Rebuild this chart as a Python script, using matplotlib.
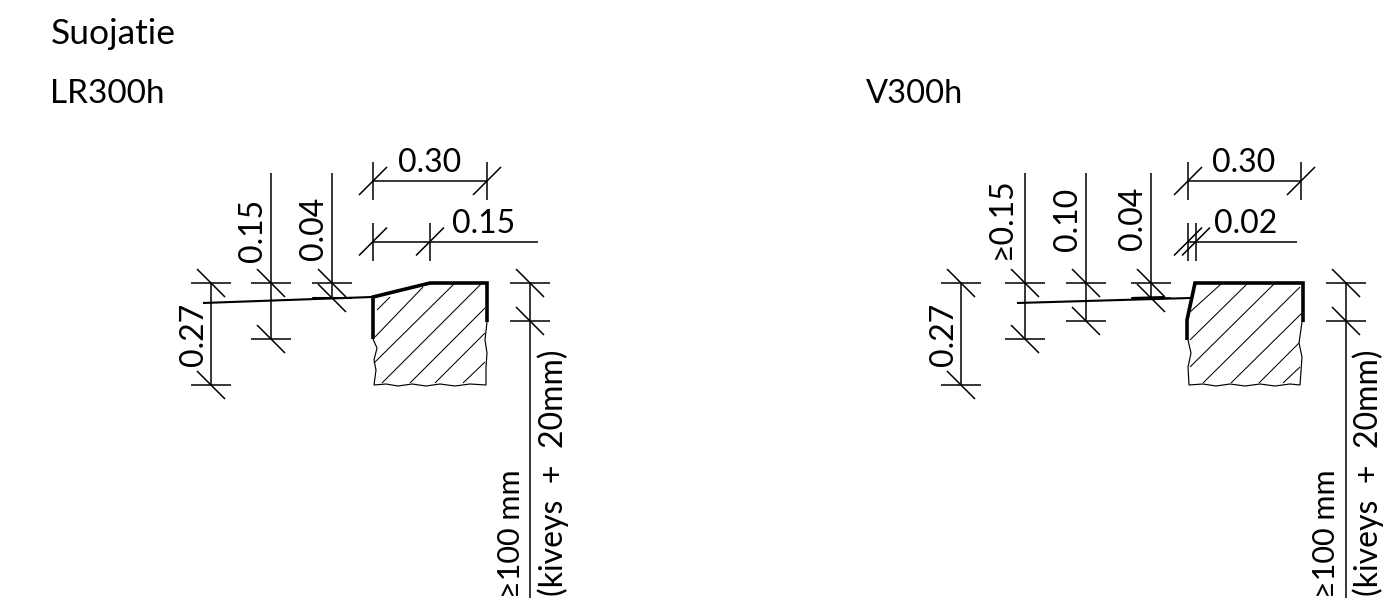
import matplotlib
matplotlib.use('Agg')
import matplotlib.pyplot as plt

# everything in pixels (x right, y down)
FONT = 'Lato'

# --- LR300h ---
lr_dims_v = [(211, 283, 385), (271, 173, 339), (332, 173, 298)]   # x, y top, y bottom
lr_ticks_v = [(211, 283), (211, 385), (271, 283), (271, 339), (332, 283), (332, 298)]
lr_dims_h = [(181, 373, 487), (241.5, 373, 538)]                  # y, x left, x right
lr_ticks_h = [(373, 181), (487, 181), (373, 241.5), (430, 241.5)]
lr_ground = [(203, 303), (372, 297)]
lr_ground_short = [(313, 297.5), (351, 297.5)]
lr_curb_top = [(373, 339), (373, 297), (430, 283), (487, 283), (487, 322)]
lr_outline = [(373, 339), (377, 348), (374, 360), (376, 370), (374, 385),
              (386, 384), (398, 386), (412, 384), (426, 386), (440, 384),
              (455, 386), (470, 384), (486, 385),
              (486, 367), (487, 353), (485, 340), (487, 322)]
lr_hatch = [((377, 310), (390, 297)), ((375, 337), (423, 287)), ((374, 363), (455, 283)),
            ((382, 383), (482, 283)), ((410, 383), (485, 308)), ((435, 383), (485, 333)),
            ((463, 383), (485, 362))]
lr_dim_right = (530, 283, 598)
lr_ticks_right = [(530, 283), (530, 321)]

# --- V300h ---
v_dims_v = [(961, 283, 385), (1025, 173, 339), (1086, 173, 321), (1151, 173, 298)]
v_ticks_v = [(961, 283), (961, 385), (1025, 283), (1025, 339), (1086, 283), (1086, 321),
             (1151, 283), (1151, 298)]
v_dims_h = [(181, 1188, 1301), (241.5, 1188, 1297)]
v_ticks_h = [(1188, 181), (1301, 181), (1188, 241.5), (1196, 241.5)]
v_ground = [(1017, 303), (1190, 298)]
v_ground_short = [(1132, 298), (1164, 297)]
v_curb_top = [(1187, 340), (1187, 320), (1195, 283), (1303, 283), (1303, 322)]
v_outline = [(1188, 340), (1191, 353), (1188, 367), (1189, 385),
             (1203, 384), (1216, 386), (1230, 384), (1245, 386), (1260, 384),
             (1275, 386), (1290, 384), (1300, 385),
             (1302, 357), (1299, 343), (1302, 322)]
v_hatch = [((1190, 312), (1221, 284)), ((1190, 340), (1247, 284)), ((1190, 367), (1274, 284)),
           ((1203, 383), (1300, 287)), ((1231, 383), (1302, 313)), ((1259, 383), (1299, 343)),
           ((1283, 383), (1300, 367))]
v_dim_right = (1346, 283, 598)
v_ticks_right = [(1346, 283), (1346, 321)]

# text: label, centre along the text, baseline, font size in pt
titles = [('Suojatie', 113, 44, 25.5), ('LR300h', 107, 103, 24), ('V300h', 915, 103, 23.5)]
labels_h = [('0.30', 430, 172, 23), ('0.15', 484, 233, 23),
            ('0.30', 1244, 172, 23), ('0.02', 1246, 233, 23)]
labels_v = [('0.27', 203, 334, 23), ('0.15', 262, 230, 23), ('0.04', 323, 228, 23),
            ('0.27', 953, 334, 23), ('≥0.15', 1011, 218, 23), ('0.10', 1077, 219, 23),
            ('0.04', 1142, 218, 23),
            ('≥100 mm', 520, 534, 22), ('(kiveys  +  20mm)', 563, 473, 23),
            ('≥100 mm', 1335, 534, 22), ('(kiveys  +  20mm)', 1378, 473, 23)]

THIN = 1.1
MID = 1.5
THICK = 2.6
HATCH = 0.75


def line(ax, pts, lw=THIN):
    xs = [p[0] for p in pts]
    ys = [p[1] for p in pts]
    ax.plot(xs, ys, color='black', lw=lw, solid_capstyle='butt', solid_joinstyle='miter')


def v_tick(ax, x, y):
    # tick on a vertical dimension line: horizontal bar and slash
    line(ax, [(x - 20, y), (x + 20, y)])
    line(ax, [(x - 14, y - 14), (x + 14, y + 14)])


def h_tick(ax, x, y):
    # tick on a horizontal dimension line: vertical bar and slash
    line(ax, [(x, y - 19), (x, y + 19)])
    line(ax, [(x - 14, y + 14), (x + 14, y - 14)])


fig = plt.figure(figsize=(13.92, 6.06), dpi=100)
ax = fig.add_axes([0, 0, 1, 1])
ax.set_xlim(0, 1392)
ax.set_ylim(606, 0)
ax.axis('off')

for dims_v, ticks_v, dims_h, ticks_h, ground, short, curb, outline, hatch, right, ticks_r in [
    (lr_dims_v, lr_ticks_v, lr_dims_h, lr_ticks_h, lr_ground, lr_ground_short,
     lr_curb_top, lr_outline, lr_hatch, lr_dim_right, lr_ticks_right),
    (v_dims_v, v_ticks_v, v_dims_h, v_ticks_h, v_ground, v_ground_short,
     v_curb_top, v_outline, v_hatch, v_dim_right, v_ticks_right),
]:
    for x, y0, y1 in dims_v:
        line(ax, [(x, y0), (x, y1)])
    for x, y in ticks_v:
        v_tick(ax, x, y)
    for y, x0, x1 in dims_h:
        line(ax, [(x0, y), (x1, y)])
    for x, y in ticks_h:
        h_tick(ax, x, y)
    line(ax, ground, MID)
    line(ax, short, MID)
    line(ax, outline, HATCH + 0.1)
    for seg in hatch:
        line(ax, seg, HATCH)
    line(ax, curb, THICK)
    line(ax, [(right[0], right[1]), (right[0], right[2])])
    for x, y in ticks_r:
        v_tick(ax, x, y)

for txt, x, y, size in titles + labels_h:
    ax.text(x, y, txt, fontsize=size, family=FONT, ha='center', va='baseline')
for txt, x, y, size in labels_v:
    ax.text(x, y, txt, fontsize=size, family=FONT, rotation=90,
            rotation_mode='anchor', ha='center', va='baseline')

fig.savefig('out.png', dpi=100)
